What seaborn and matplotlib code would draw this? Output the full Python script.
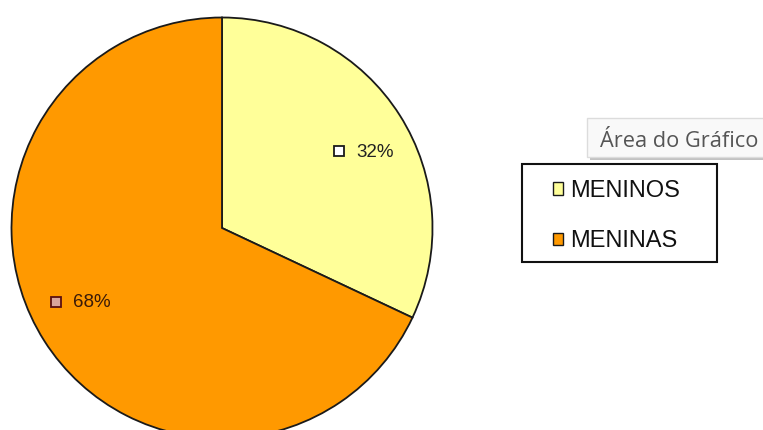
import matplotlib
matplotlib.use("Agg")
import matplotlib.pyplot as plt
from matplotlib.patches import Rectangle
import seaborn as sns

categories = ["MENINOS", "MENINAS"]
values = [32, 68]
colors = ["#FFFF99", "#FF9900"]

sns.set_theme(style="white")
plt.rcParams["font.family"] = ["Liberation Sans", "DejaVu Sans"]

W, H = 763, 430
fig = plt.figure(figsize=(W / 100, H / 100), dpi=100)
fig.patch.set_facecolor("white")

cx, cy, R = 222, 228, 210.5
ax = fig.add_axes([(cx - R) / W, (H - cy - R) / H, 2 * R / W, 2 * R / H])
palette = sns.color_palette(colors)
wedges, texts, autotexts = ax.pie(
    values, colors=palette, startangle=90, counterclock=False,
    autopct=lambda p: "%d%%" % round(p), pctdistance=0.77,
    wedgeprops=dict(edgecolor="#1a1a1a", linewidth=1.3),
    textprops=dict(fontsize=13.5, color="#222222"),
)
ax.set_xlim(-1, 1)
ax.set_ylim(-1, 1)
ax.set_aspect("equal")
ax.axis("off")

# data label placement (marker centre, in radius units)
label_pos = [(0.556, 0.36), (-0.79, -0.355)]
text_colors = ["#222222", "#3a1a08"]
marker_fc = ["#ffffff", "#d9a59a"]
marker_ec = ["#1a1a1a", "#5a1010"]
for at, (lx, ly), tc, fc, ec in zip(autotexts, label_pos, text_colors, marker_fc, marker_ec):
    at.set_position((lx + 0.08, ly))
    at.set_ha("left")
    at.set_va("center")
    at.set_color(tc)
    ax.plot([lx], [ly + 0.005], marker="s", ms=6.5, mfc=fc, mec=ec, mew=1.3,
            linestyle="none", clip_on=False)

# legend
leg = fig.legend(
    wedges, categories, loc="upper left",
    bbox_to_anchor=(553 / W, 1 - 180 / H), bbox_transform=fig.transFigure,
    frameon=False, fontsize=17, handlelength=0.42, handleheight=0.42,
    handletextpad=0.3, labelspacing=1.2, borderaxespad=0, borderpad=0,
)
for h in leg.legend_handles:
    h.set_edgecolor("#1a1a1a")
    h.set_linewidth(1.0)
for t in leg.get_texts():
    t.set_color("#111111")

fig.patches.append(Rectangle((522 / W, 1 - 262 / H), 195 / W, 98 / H,
                             transform=fig.transFigure, fill=False,
                             edgecolor="#111111", linewidth=1.5))

# tooltip
fig.patches.append(Rectangle((590 / W, 1 - 160 / H), 180 / W, 40 / H,
                             transform=fig.transFigure, facecolor="#9a9a9a",
                             edgecolor="none", alpha=0.6))
fig.patches.append(Rectangle((587 / W, 1 - 157 / H), 180 / W, 39 / H,
                             transform=fig.transFigure, facecolor="#f9f9f9",
                             edgecolor="#dcdcdc", linewidth=1))
fig.text(600 / W, 1 - 147 / H, "\u00c1rea do Gr\u00e1fico", fontsize=15.7,
         color="#555555", va="baseline", ha="left", family=["Open Sans", "DejaVu Sans"])

fig.savefig("out.png", dpi=100)
